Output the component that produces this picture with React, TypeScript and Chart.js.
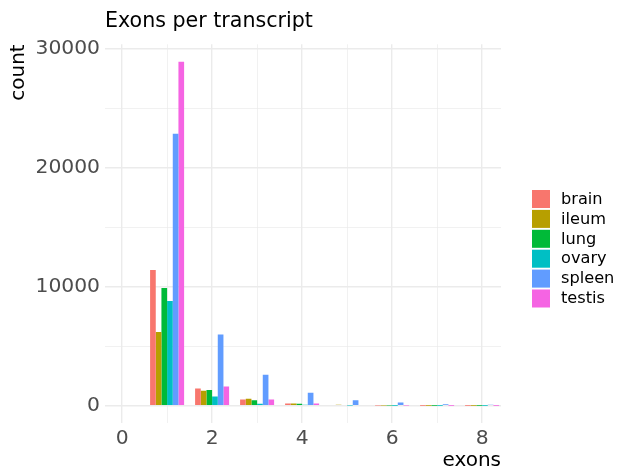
import React, { useEffect, useRef } from "react";
import { Chart, registerables } from "chart.js";

Chart.register(...registerables);

const exonBins = [1, 2, 3, 4, 5, 6, 7, 8];
const tissues = ["brain", "ileum", "lung", "ovary", "spleen", "testis"];
const tissueColors = ["#F8766D", "#B79F00", "#00BA38", "#00BFC4", "#619CFF", "#F564E3"];

const brain = [11400, 1460, 520, 190, 70, 30, 4, 2];
const ileum = [6200, 1270, 600, 200, 90, 30, 4, 2];
const lung = [9900, 1320, 460, 180, 60, 25, 4, 2];
const ovary = [8800, 770, 180, 80, 30, 10, 2, 1];
const spleen = [22850, 5980, 2610, 1090, 470, 280, 130, 90];
const testis = [28900, 1630, 520, 190, 60, 20, 4, 2];
const seriesValues = [brain, ileum, lung, ovary, spleen, testis];

const xTickValues = [0, 1, 2, 3, 4, 5, 6, 7, 8];
const yTickValues = [0, 5000, 10000, 15000, 20000, 25000, 30000];

const FONT = "'DejaVu Sans', sans-serif";

const legendPlugin = {
  id: "customLegend",
  afterDraw(chart: any) {
    const ctx = chart.ctx;
    ctx.save();
    chart.data.datasets.forEach((ds: any, i: number) => {
      const y = 190 + i * 19.9;
      ctx.fillStyle = ds.backgroundColor;
      ctx.fillRect(532, y, 18, 18);
      ctx.fillStyle = "#000000";
      ctx.font = `16.2px ${FONT}`;
      ctx.textBaseline = "middle";
      ctx.textAlign = "left";
      ctx.fillText(ds.label, 561, y + 9.5);
    });
    ctx.restore();
  },
};

export default function App() {
  const ref = useRef<HTMLCanvasElement | null>(null);

  useEffect(() => {
    if (!ref.current) return;
    const chart = new Chart(ref.current, {
      type: "bar",
      data: {
        datasets: tissues.map((t, i) => ({
          label: t,
          data: exonBins.map((x, j) => ({ x, y: seriesValues[i][j] })),
          backgroundColor: tissueColors[i],
          borderWidth: 0,
          categoryPercentage: 0.756,
          barPercentage: 1,
        })),
      },
      options: {
        responsive: false,
        animation: false,
        layout: { padding: { left: 0, right: 116, top: 0, bottom: 0 } },
        plugins: {
          legend: { display: false },
          tooltip: { enabled: false },
          title: {
            display: true,
            text: "Exons per transcript",
            align: "start",
            fullSize: false,
            color: "#000000",
            font: { family: FONT, size: 20.6, weight: "normal", lineHeight: 1.2 },
            padding: { top: 9.5, bottom: 10.1 },
          },
        },
        scales: {
          x: {
            type: "linear",
            min: -0.38,
            max: 8.42,
            offset: false,
            afterFit: (s: any) => {
              s.height = 49;
            },
            afterBuildTicks: (s: any) => {
              s.ticks = xTickValues.map((v) => ({ value: v }));
            },
            ticks: {
              autoSkip: false,
              maxRotation: 0,
              padding: 4,
              color: "#4D4D4D",
              font: { family: FONT, size: 20.3 },
              callback: (v: any) => (Number(v) % 2 === 0 ? String(v) : ""),
            },
            grid: {
              offset: false,
              drawTicks: false,
              color: "#EBEBEB",
              lineWidth: (c: any) => (c.tick && c.tick.value % 2 === 0 ? 1.4 : 0.7),
            },
            border: { display: false },
            title: {
              display: true,
              text: "exons",
              align: "end",
              color: "#000000",
              font: { family: FONT, size: 20, lineHeight: 1 },
              padding: { top: 0, bottom: 1 },
            },
          },
          y: {
            type: "linear",
            min: -1445,
            max: 30355,
            afterFit: (s: any) => {
              s.width = 105;
            },
            afterBuildTicks: (s: any) => {
              s.ticks = yTickValues.map((v) => ({ value: v }));
            },
            ticks: {
              autoSkip: false,
              padding: 5,
              color: "#4D4D4D",
              font: { family: FONT, size: 20.3 },
              callback: (v: any) => (Number(v) % 10000 === 0 ? String(v) : ""),
            },
            grid: {
              drawTicks: false,
              color: "#EBEBEB",
              lineWidth: (c: any) => (c.tick && c.tick.value % 10000 === 0 ? 1.4 : 0.7),
            },
            border: { display: false },
            title: {
              display: true,
              text: "count",
              align: "end",
              color: "#000000",
              font: { family: FONT, size: 20, lineHeight: 1 },
              padding: { top: 9, bottom: 0 },
            },
          },
        },
      },
      plugins: [legendPlugin],
    } as any);
    return () => chart.destroy();
  }, []);

  return (
    <div style={{ position: "absolute", left: 0, top: 0, width: 617, height: 472, background: "#ffffff" }}>
      <canvas ref={ref} width={617} height={472} style={{ display: "block" }} />
    </div>
  );
}
